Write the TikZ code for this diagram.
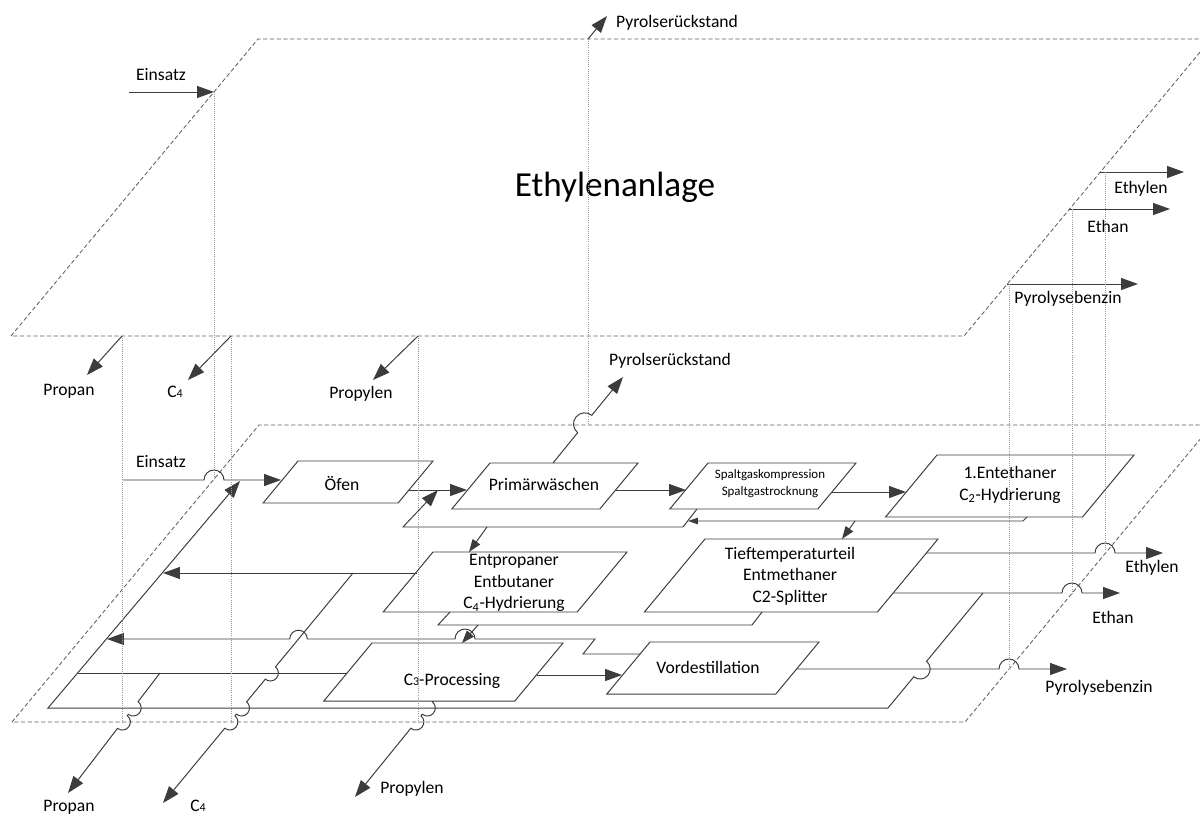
\documentclass[tikz,border=0pt]{standalone}
\usepackage{fontspec}
\setmainfont{Carlito}
\usepackage{tikz}
\usetikzlibrary{arrows.meta,calc}
\definecolor{linecol}{HTML}{3C3C3C}
\definecolor{planecol}{HTML}{5F5F5F}
\definecolor{guidecol}{HTML}{9A9A9A}
\newcommand {\lblfont}{\fontsize{12.5}{15.3}\selectfont}
\newcommand {\cnum}[1]{{\fontsize{8.5}{8.5}\selectfont #1}}
% parallelogram of a process step: top left corner, top width, height
\newcommand {\procshape}[4]{\draw[box] (#1,#2) -- ++(#3,0) -- ++(-0.83*#4,#4) -- ++(-#3,0) -- cycle;}

\begin{document}
\begin{tikzpicture}[x=0.25mm,y=-0.25mm,>={Triangle[length=12pt,width=8.5pt]},
	line width=0.7pt,
	plane/.style={draw=planecol,line width=0.6pt,dash pattern=on 3pt off 1.8pt},
	guide/.style={draw=guidecol,line width=0.45pt,dash pattern=on 0.6pt off 0.9pt},
	flow/.style={draw=linecol,->},
	pipe/.style={draw=linecol},
	box/.style={draw=linecol},
	tip small/.style={-{Triangle[length=9pt,width=6.5pt]}},
	tip tiny/.style={-{Triangle[length=7pt,width=4.5pt]}},
	tag/.style={font=\lblfont,inner sep=0pt,anchor=base},
	boxtext/.style={font=\lblfont,inner sep=0pt,align=center}]

	\useasboundingbox (0,0) rectangle (1200,814);

	% the two levels
	\draw[plane] (11,336) -- (258,39) -- (1211,39) -- (964,336) -- cycle;
	\draw[plane] (12,722) -- (259,425) -- (1212,425) -- (965,722) -- cycle;

	%%% upper level
	\node[font=\fontsize{25}{30}\selectfont,inner sep=0pt,anchor=base] (anlage) at (615,196) {Ethylenanlage};

	\node[tag] (einsatzO) at (161,80) {Einsatz};
	\node[tag] (pyrO) at (677,27) {Pyrolserückstand};
	\node[tag] (propanO) at (69,395) {Propan};
	\node[tag] (cvierO) at (175,397) {C\cnum{4}};
	\node[tag] (propylenO) at (361,398) {Propylen};
	\node[tag] (ethylenO) at (1141,193) {Ethylen};
	\node[tag] (ethanO) at (1108,232) {Ethan};
	\node[tag] (benzinO) at (1068,303) {Pyrolysebenzin};

	\coordinate (eO0) at (129,92);    \coordinate (eO1) at (214,92);
	\coordinate (pyO0) at (588,39);   \coordinate (pyO1) at (607,16);
	\coordinate (paO0) at (122,336);  \coordinate (paO1) at (87,375);
	\coordinate (cvO0) at (231,336);  \coordinate (cvO1) at (188,380);
	\coordinate (plO0) at (418,336);  \coordinate (plO1) at (373,380);
	\coordinate (etO0) at (1100,172); \coordinate (etO1) at (1184,172);
	\coordinate (eaO0) at (1069,209); \coordinate (eaO1) at (1170,209);
	\coordinate (bzO0) at (1007,284); \coordinate (bzO1) at (1138,284);

	\foreach \a/\b in {eO0/eO1,pyO0/pyO1,paO0/paO1,cvO0/cvO1,plO0/plO1,etO0/etO1,eaO0/eaO1,bzO0/bzO1}
		\draw[flow] (\a) -- (\b);

	%%% lower level
	\procshape{298}{461}{135}{42}
	\procshape{490}{463}{148}{46}
	\procshape{708}{463}{148}{46}
	\procshape{937}{455}{197}{62}
	\procshape{433}{552}{194}{60}
	\procshape{705}{539}{233}{73}
	\procshape{372}{643}{191}{58}
	\procshape{650}{642}{169}{52}

	\node[boxtext] (ofen) at (342,484) {Öfen};
	\node[boxtext] (primar) at (544,484) {Primärwäschen};
	\node[boxtext,font=\fontsize{9.2}{12}\selectfont] (spalt) at (770,484) {Spaltgaskompression\\Spaltgastrocknung};
	\node[boxtext] (entethaner) at (1010,485) {1.Entethaner\\C\textsubscript{2}-Hydrierung};
	\node[boxtext] (entpropaner) at (514,583) {Entpropaner\\Entbutaner\\C\textsubscript{4}-Hydrierung};
	\node[boxtext] (tief) at (790,576) {Tieftemperaturteil\\Entmethaner\\C2-Splitter};
	\node[boxtext] (cdrei) at (452,681) {C\cnum{3}-Processing};
	\node[boxtext] (vordest) at (708,667) {Vordestillation};

	\node[tag] (einsatzU) at (161,467) {Einsatz};
	\node[tag] (pyrU) at (670,365) {Pyrolserückstand};
	\node[tag] (ethylenU) at (1152,572) {Ethylen};
	\node[tag] (ethanU) at (1113,623) {Ethan};
	\node[tag] (benzinU) at (1099,692) {Pyrolysebenzin};
	\node[tag] (propanU) at (69,811) {Propan};
	\node[tag] (cvierU) at (198,811) {C\cnum{4}};
	\node[tag] (propylenU) at (412,793) {Propylen};

	% main line
	\coordinate (eU0) at (123,480); \coordinate (eUh) at (214,480); \coordinate (eU1) at (281,480);
	\coordinate (oP0) at (409,490); \coordinate (oP1) at (467,490);
	\coordinate (pS0) at (616,490); \coordinate (pS1) at (686,490);
	\coordinate (sE0) at (832,492); \coordinate (sE1) at (906,492);
	\draw[flow] (eU0) -- ($(eUh)!2.5mm!(eU0)$) arc[start angle=180,end angle=0,radius=2.5mm] -- (eU1);
	\draw[flow] (oP0) -- (oP1);
	\draw[flow] (pS0) -- (pS1);
	\draw[flow] (sE0) -- (sE1);

	\coordinate (pr0) at (553,463); \coordinate (prh) at (584.7,424); \coordinate (pr1) at (623,377);
	\draw[flow] (pr0) -- ($(prh)!2.8mm!(pr0)$) arc[start angle=230.85,end angle=50.85,radius=2.8mm] -- (pr1);

	% returns below the gas line
	\coordinate (rc0) at (697,509); \coordinate (rc1) at (683,527);
	\coordinate (rc2) at (403,527); \coordinate (rc3) at (438,490);
	\draw[flow] (rc0) -- (rc1) -- (rc2) -- (rc3);
	\coordinate (en0) at (1027,517); \coordinate (en1) at (1023,521); \coordinate (en2) at (688,521);
	\draw[flow,tip tiny] (en0) -- (en1) -- (en2);
	\coordinate (tt0) at (855,521); \coordinate (tt1) at (842,539);
	\draw[flow,tip small] (tt0) -- (tt1);
	\coordinate (ep0) at (487,527); \coordinate (ep1) at (469,552);
	\draw[flow,tip small] (ep0) -- (ep1);

	\coordinate (fb0) at (762,612); \coordinate (fb1) at (752,625);
	\coordinate (fb2) at (438,625); \coordinate (fb3) at (450,612);
	\draw[pipe] (fb0) -- (fb1) -- (fb2) -- (fb3);
	\coordinate (ec0) at (478,625); \coordinate (ec1) at (462,643);
	\draw[flow,tip small] (ec0) -- (ec1);

	% products of the cold part
	\coordinate (ty0) at (926,553); \coordinate (tyh) at (1105,553); \coordinate (ty1) at (1163,553);
	\draw[flow] (ty0) -- ($(tyh)!2.5mm!(ty0)$) arc[start angle=180,end angle=0,radius=2.5mm] -- (ty1);
	\coordinate (ta0) at (893,593); \coordinate (tah) at (1072,593); \coordinate (ta1) at (1120,593);
	\draw[flow] (ta0) -- ($(tah)!2.5mm!(ta0)$) arc[start angle=180,end angle=0,radius=2.5mm] -- (ta1);

	% ethane back to the furnaces
	\coordinate (lo0) at (983,593); \coordinate (loh) at (920.2,669); \coordinate (lo1) at (888,708);
	\coordinate (lo2) at (48,708);  \coordinate (lo3) at (240,481);
	\draw[flow] (lo0) -- ($(loh)!2.5mm!(lo0)$) arc[start angle=50.44,end angle=-129.56,radius=2.5mm]
		-- (lo1) -- (lo2) -- (lo3);

	\coordinate (cv0) at (353,573); \coordinate (lp0) at (417,573); \coordinate (lp1) at (163,573);
	\draw[flow] (lp0) -- (lp1);
	\coordinate (cvh1) at (270.4,673); \coordinate (cvh2) at (241.5,708);
	\coordinate (cvh3) at (229.9,722); \coordinate (cv1) at (163,803);
	\draw[flow] (cv0) -- ($(cvh1)!2mm!(cv0)$) arc[start angle=50.44,end angle=-129.56,radius=2mm]
		-- ($(cvh2)!2mm!(cv0)$) arc[start angle=50.44,end angle=-129.56,radius=2mm]
		-- ($(cvh3)!2mm!(cv0)$) arc[start angle=50.44,end angle=-129.56,radius=2mm] -- (cv1);

	\coordinate (vl0) at (640,654); \coordinate (vl1) at (583,654); \coordinate (vl2) at (595,639);
	\coordinate (vlh1) at (465,639); \coordinate (vlh2) at (298.5,639); \coordinate (vl3) at (107,639);
	\draw[flow] (vl0) -- (vl1) -- (vl2) -- ($(vlh1)!2.5mm!(vl2)$) arc[start angle=0,end angle=180,radius=2.5mm]
		-- ($(vlh2)!2.2mm!(vl2)$) arc[start angle=0,end angle=180,radius=2.2mm] -- (vl3);

	\coordinate (pa0) at (347,673); \coordinate (pa1) at (78,673);
	\draw[pipe] (pa0) -- (pa1);
	\coordinate (pb0) at (160,673); \coordinate (pbh1) at (133.2,708);
	\coordinate (pbh2) at (122.4,722); \coordinate (pb1) at (68,793);
	\draw[flow] (pb0) -- ($(pbh1)!2mm!(pb0)$) arc[start angle=52.5,end angle=-127.5,radius=2mm]
		-- ($(pbh2)!2mm!(pb0)$) arc[start angle=52.5,end angle=-127.5,radius=2mm] -- (pb1);

	\coordinate (pl0) at (433,701); \coordinate (plh1) at (427.3,708);
	\coordinate (plh2) at (415.9,722); \coordinate (pl1) at (355,797);
	\draw[flow] (pl0) -- ($(plh1)!2mm!(pl0)$) arc[start angle=50.9,end angle=-129.1,radius=2mm]
		-- ($(plh2)!2mm!(pl0)$) arc[start angle=50.9,end angle=-129.1,radius=2mm] -- (pl1);

	\coordinate (cd0) at (537,675); \coordinate (cd1) at (622,675);
	\draw[flow] (cd0) -- (cd1);
	\coordinate (vb0) at (797,669); \coordinate (vbh) at (1009,669); \coordinate (vb1) at (1067,669);
	\draw[flow] (vb0) -- ($(vbh)!2.5mm!(vb0)$) arc[start angle=180,end angle=0,radius=2.5mm] -- (vb1);

	% projection lines between the levels
	\draw[guide] (paO0) -- (paO0 |- pbh2);
	\draw[guide] (eO1) -- (eUh);
	\draw[guide] (cvO0) -- (cvO0 |- cvh3);
	\draw[guide] (plO0) -- (plO0 |- plh2);
	\draw[guide] (pyO0) -- (pyO0 |- prh);
	\draw[guide] (vbh |- bzO0) -- (vbh);
	\draw[guide] (tah |- eaO0) -- (tah);
	\draw[guide] (tyh |- etO0) -- (tyh);
\end{tikzpicture}
\end{document}
